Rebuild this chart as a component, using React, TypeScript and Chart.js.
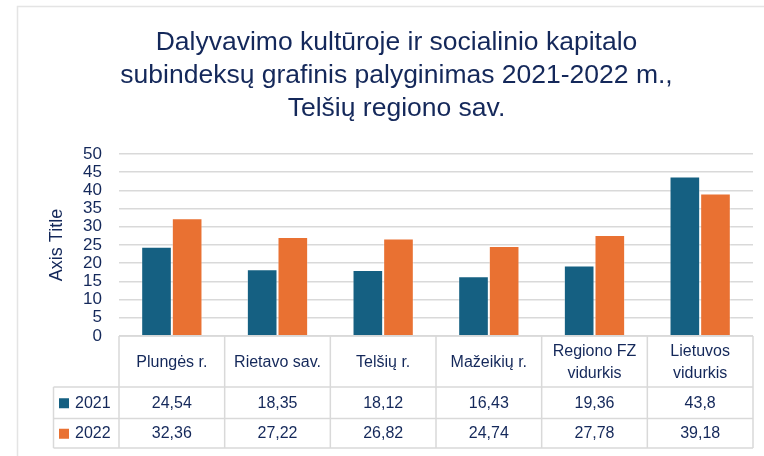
import React, { useEffect, useRef } from 'react';
import { Chart, registerables } from 'chart.js';

Chart.register(...registerables);

const titleLines = [
  'Dalyvavimo kultūroje ir socialinio kapitalo',
  'subindeksų grafinis palyginimas 2021-2022 m.,',
  'Telšių regiono sav.',
];
const categories: string[][] = [
  ['Plungės r.'],
  ['Rietavo sav.'],
  ['Telšių r.'],
  ['Mažeikių r.'],
  ['Regiono FZ', 'vidurkis'],
  ['Lietuvos', 'vidurkis'],
];
const seriesNames = ['2021', '2022'];
const values2021 = [24.54, 18.35, 18.12, 16.43, 19.36, 43.8];
const values2022 = [32.36, 27.22, 26.82, 24.74, 27.78, 39.18];
const seriesColors = ['#156082', '#E97132'];
const yMin = 0;
const yMax = 50;
const yStep = 5;
const yAxisTitle = 'Axis Title';

const TEXT = '#14285A';
const GRID = '#d9d9d9';
const FONT = "'Liberation Sans', Arial, sans-serif";

const fmt = (v: number) => String(v).replace('.', ',');

const framePlugin = {
  id: 'frame',
  beforeDraw(chart: any) {
    const { ctx, width, height } = chart;
    ctx.save();
    ctx.strokeStyle = '#e4e4e4';
    ctx.lineWidth = 1.5;
    ctx.beginPath();
    ctx.moveTo(17.5, height);
    ctx.lineTo(17.5, 6.5);
    ctx.lineTo(width, 6.5);
    ctx.stroke();
    ctx.restore();
  },
};

const tablePlugin = {
  id: 'dataTable',
  afterDraw(chart: any) {
    const { ctx, chartArea, scales } = chart;
    const x = scales.x;
    const n = categories.length;
    const colW = x.width / n;
    const top = chartArea.bottom;
    const hdrH = 51;
    const rowHs = [31.5, 29.5];
    const legendLeft = 53.5;
    const left = chartArea.left;
    const right = chartArea.right;
    const rowTops = [top + hdrH, top + hdrH + rowHs[0]];
    const bottom = top + hdrH + rowHs[0] + rowHs[1];

    ctx.save();
    ctx.strokeStyle = GRID;
    ctx.lineWidth = 1.5;
    ctx.beginPath();
    ctx.moveTo(left, top);
    ctx.lineTo(right, top);
    [rowTops[0], rowTops[1], bottom].forEach((yy) => {
      ctx.moveTo(legendLeft, yy);
      ctx.lineTo(right, yy);
    });
    for (let i = 0; i <= n; i++) {
      const xx = i < n ? x.getPixelForValue(i) - colW / 2 : x.getPixelForValue(n - 1) + colW / 2;
      ctx.moveTo(xx, top);
      ctx.lineTo(xx, bottom);
    }
    ctx.moveTo(legendLeft, rowTops[0]);
    ctx.lineTo(legendLeft, bottom);
    ctx.stroke();

    ctx.fillStyle = TEXT;
    ctx.font = `16px ${FONT}`;
    ctx.textAlign = 'center';
    ctx.textBaseline = 'middle';
    categories.forEach((lines, i) => {
      const cx = x.getPixelForValue(i);
      const lh = 22;
      const cy = top + hdrH / 2 + 1;
      lines.forEach((ln, j) => {
        ctx.fillText(ln, cx, cy - ((lines.length - 1) * lh) / 2 + j * lh);
      });
    });
    const rows = [values2021, values2022];
    rows.forEach((vals, r) => {
      const cy = rowTops[r] + rowHs[r] / 2 + 0.5;
      ctx.textAlign = 'center';
      vals.forEach((v, i) => {
        ctx.fillText(fmt(v), x.getPixelForValue(i), cy);
      });
      ctx.fillStyle = seriesColors[r];
      ctx.fillRect(legendLeft + 5.5, cy - 5, 10, 10);
      ctx.fillStyle = TEXT;
      ctx.textAlign = 'left';
      ctx.fillText(seriesNames[r], legendLeft + 21.5, cy);
    });
    ctx.restore();
  },
};

export default function App() {
  const ref = useRef<HTMLCanvasElement | null>(null);

  useEffect(() => {
    if (!ref.current) return;
    const chart = new Chart(ref.current, {
      type: 'bar',
      data: {
        labels: categories.map((c) => c.join(' ')),
        datasets: [
          {
            label: seriesNames[0],
            data: values2021,
            backgroundColor: seriesColors[0],
            borderColor: 'rgba(255,255,255,0.35)',
            borderWidth: 1,
          },
          {
            label: seriesNames[1],
            data: values2022,
            backgroundColor: seriesColors[1],
            borderColor: 'rgba(255,255,255,0.35)',
            borderWidth: 1,
          },
        ],
      },
      options: {
        animation: false,
        responsive: false,
        maintainAspectRatio: false,
        layout: { padding: { left: 40, right: 11, top: 0, bottom: 120 } },
        datasets: { bar: { categoryPercentage: 0.58, barPercentage: 1 } },
        plugins: {
          legend: { display: false },
          tooltip: { enabled: false },
          title: {
            display: true,
            text: titleLines,
            color: TEXT,
            font: { family: FONT, size: 26.5, weight: 'normal', lineHeight: 33 / 26.5 },
            padding: { top: 26, bottom: 29 },
          },
        },
        scales: {
          x: {
            display: false,
          },
          y: {
            min: yMin,
            max: yMax,
            border: { display: false },
            grid: { color: GRID, lineWidth: 1.5, drawTicks: false },
            ticks: {
              stepSize: yStep,
              autoSkip: false,
              color: TEXT,
              font: { family: FONT, size: 17 },
              padding: 17,
            },
            title: {
              display: true,
              text: yAxisTitle,
              color: TEXT,
              font: { family: FONT, size: 18 },
              padding: { top: 6, bottom: 0 },
            },
            afterFit(scale: any) {
              scale.width = 79;
            },
          },
        },
      },
      plugins: [framePlugin, tablePlugin],
    });
    return () => chart.destroy();
  }, []);

  return (
    <div style={{ position: 'absolute', left: 0, top: 0, width: 764, height: 456, background: '#fff' }}>
      <canvas ref={ref} width={764} height={456} style={{ display: 'block', width: 764, height: 456 }} />
    </div>
  );
}
